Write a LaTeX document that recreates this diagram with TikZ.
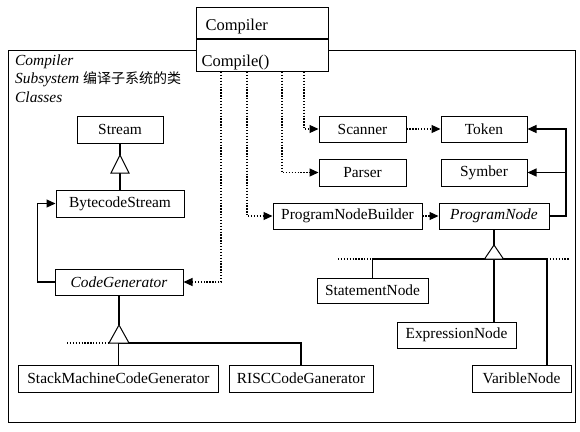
\documentclass[tikz,border=0pt]{standalone}
\usepackage{fontspec}
\setmainfont{Liberation Serif}
\newfontfamily\cjk{Noto Sans CJK SC}
\usetikzlibrary{arrows.meta}
\begin{document}
\begin{tikzpicture}[x=1bp,y=-1bp,
  cls/.style={draw, line width=1bp, fill=white, minimum height=26bp, inner sep=0pt,
    font=\fontsize{15.4bp}{18bp}\selectfont},
  cbox/.style={draw, line width=1bp, fill=white, text width=122bp, inner xsep=5bp, inner ysep=0pt,
    align=left, font=\fontsize{16.5bp}{19bp}\selectfont},
  link/.style={line width=1.2bp},
  dotline/.style={line width=1.2bp, dash pattern=on 1.3bp off 1.6bp},
  dep/.style={dotline, -{Triangle[length=9bp,width=8bp]}},
  assoc/.style={link, -{Triangle[length=9bp,width=8bp]}},
  gen/.style={draw, line width=1bp, fill=white},
  ftext/.style={anchor=base west, inner sep=0pt, font=\itshape\fontsize{15.4bp}{18bp}\selectfont}
]
\useasboundingbox (0,0) rectangle (580,431);
% frame
\draw[line width=1bp] (8,50) rectangle (575,422);
\node[ftext] (t1) at (15,65) {Compiler};
\node[ftext] (t2) at (15,83) {Subsystem {\cjk\upshape\fontsize{14bp}{14bp}\selectfont 编译子系统的类}};
\node[ftext] (t3) at (15,102) {Classes};
% compiler
\node[cbox, anchor=north west, minimum height=31bp] (ctitle) at (196,7) {\hspace{4bp}\raisebox{-4bp}[11bp][4bp]{Compiler}};
\node[cbox, anchor=north west, minimum height=32bp] (cmethod) at (ctitle.south west) {\raisebox{-7bp}[11bp][4bp]{Compile()}};
% classes
\node[cls, minimum width=86bp, minimum height=27bp] (stream) at (120,129.5) {Stream};
\node[cls, minimum width=128bp, minimum height=27bp] (bstream) at (120,203.5) {BytecodeStream};
\node[cls, minimum width=128bp] (codegen) at (119,282) {\itshape CodeGenerator};
\node[cls, minimum width=199bp, minimum height=27bp] (stack) at (118.5,378.5) {StackMachineCodeGenerator};
\node[cls, minimum width=144bp, minimum height=27bp] (risc) at (301,378.5) {RISCCodeGanerator};
\node[cls, minimum width=87bp] (scanner) at (362.5,129) {Scanner};
\node[cls, minimum width=87bp, minimum height=27bp] (parser) at (362.5,172.5) {Parser};
\node[cls, minimum width=149bp] (pnb) at (347.5,216) {ProgramNodeBuilder};
\node[cls, minimum width=86bp] (token) at (484,129) {Token};
\node[cls, minimum width=86bp, minimum height=27bp] (symber) at (484,172.5) {Symber};
\node[cls, minimum width=110bp] (pnode) at (494,216) {\itshape ProgramNode};
\node[cls, minimum width=111bp, minimum height=25bp] (stmt) at (372.5,290.5) {StatementNode};
\node[cls, minimum width=119bp] (expr) at (456.5,335) {ExpressionNode};
\node[cls, minimum width=99bp, minimum height=27bp] (var) at (521.5,378.5) {VaribleNode};
% dependency lines from Compile()
\coordinate (x1) at (221,0);
\coordinate (x2) at (247,0);
\coordinate (x3) at (282,0);
\coordinate (x4) at (304,0);
\draw[dep] (cmethod.south -| x1) |- (codegen.east);
\draw[dep] (cmethod.south -| x2) |- (pnb.west);
\draw[dep] (cmethod.south -| x3) |- (parser.west);
\draw[dep] (cmethod.south -| x4) |- (scanner.west);
\draw[dep] (scanner.east) -- (token.west);
\draw[dep] (pnb.east) -- (pnode.west);
% ProgramNode associations
\coordinate (rt) at (566,129);
\draw[assoc] (pnode.east) -| (rt) -- (token.east);
\draw[assoc] (symber.east -| rt) -- (symber.east);
% ProgramNode generalization
\coordinate (papex) at (494,245);
\coordinate (pbase) at (494,259);
\coordinate (vj) at (547,259);
\draw[link] (pnode.south) -- (papex);
\draw[link] (stmt.north) |- (vj) -- (vj |- var.north);
\draw[link] (pbase) -- (pbase |- expr.north);
\draw[dotline] (338,259) -- (stmt.north |- pbase);
\draw[dotline] (vj) -- (570,259);
\draw[gen] (papex) -- (503.5,259) -- (484.5,259) -- cycle;
% Stream generalization
\coordinate (sapex) at (120,155);
\coordinate (sbase) at (120,173);
\draw[link] (stream.south) -- (sapex);
\draw[link] (sbase) -- (bstream.north);
\draw[gen] (sapex) -- (129,173) -- (111,173) -- cycle;
% CodeGenerator -> BytecodeStream
\draw[assoc] (codegen.west) -- ++(-17,0) |- (bstream.west);
% CodeGenerator generalization
\coordinate (capex) at (119,325);
\coordinate (rj) at (301,343);
\draw[link] (codegen.south) -- (capex);
\draw[link] (stack.north) |- (rj) -- (risc.north);
\draw[dotline] (67,343) -- (109,343);
\draw[gen] (capex) -- (129,343) -- (109,343) -- cycle;
\end{tikzpicture}
\end{document}
